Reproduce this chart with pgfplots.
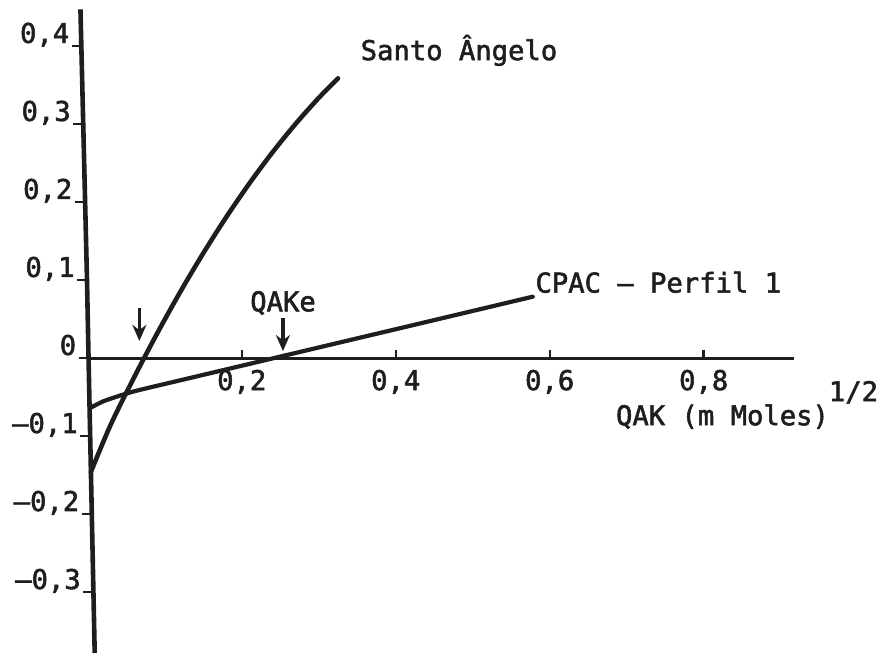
\documentclass[border=0pt]{standalone}
\usepackage{pgfplots}
\pgfplotsset{compat=1.18}
\usepackage{fontspec}
\setmainfont{DejaVu Sans Mono}[FakeBold=2]
\usetikzlibrary{arrows.meta}

\definecolor{ink}{RGB}{30,30,30}

% curves read on the QAK^{1/2} axis
\pgfplotstableread{
x      y
0.004 -0.146
0.030 -0.0849
0.060 -0.0251
0.090  0.0314
0.120  0.0846
0.150  0.1344
0.180  0.1809
0.210  0.2240
0.240  0.2638
0.270  0.3003
0.300  0.3335
0.325  0.3586
}\santoangelo

\pgfplotstableread{
x      y
0.003 -0.064
0.020 -0.0555
0.040 -0.0487
0.060 -0.0427
0.090 -0.0355
0.150 -0.0215
0.250  0.0019
0.350  0.0253
0.450  0.0487
0.578  0.0787
}\cpac

\tikzset{
  tk/.style={ink, line width=1.2pt},
  ylab/.style={ink, anchor=base east, inner sep=1pt},
}

\begin{document}
\begin{tikzpicture}
\begin{axis}[
  hide axis,
  scale only axis,
  width=442.5pt, height=326.5pt,
  xmin=-0.114, xmax=1.0355,
  ymin=-0.378, ymax=0.459,
  clip=false,
  font=\fontsize{13.6}{16}\selectfont,
]
  % page frame
  \path (rel axis cs:0,0) rectangle (rel axis cs:1,1);

  % axes drawn by hand
  \draw[ink, line width=2.3pt] (axis cs:-0.0095,0.447) -- (axis cs:-0.001,0.100)
        -- (axis cs:0.001,0) -- (axis cs:0.009,-0.378);
  \draw[ink, line width=1.5pt] (axis cs:0,0) -- (axis cs:0.917,0);

  % x ticks
  \draw[tk] (axis cs:0.2,0) -- (axis cs:0.2,0.011);
  \draw[tk] (axis cs:0.4,0) -- (axis cs:0.4,0.011);
  \draw[tk] (axis cs:0.6,0) -- (axis cs:0.6,0.011);
  \draw[tk] (axis cs:0.8,0) -- (axis cs:0.8,0.011);
  \node[ink, anchor=base] at (axis cs:0.2,-0.041) {0,2};
  \node[ink, anchor=base] at (axis cs:0.4,-0.041) {0,4};
  \node[ink, anchor=base] at (axis cs:0.6,-0.041) {0,6};
  \node[ink, anchor=base] at (axis cs:0.8,-0.041) {0,8};

  % y ticks
  \draw[tk] (axis cs:-0.021,0.4)  -- (axis cs:-0.008,0.4);
  \draw[tk] (axis cs:-0.019,0.3)  -- (axis cs:-0.006,0.3);
  \draw[tk] (axis cs:-0.017,0.2)  -- (axis cs:-0.004,0.2);
  \draw[tk] (axis cs:-0.014,0.1)  -- (axis cs:-0.001,0.1);
  \draw[tk] (axis cs:-0.012,0)    -- (axis cs:0.001,0);
  \draw[tk] (axis cs:-0.010,-0.1) -- (axis cs:0.003,-0.1);
  \draw[tk] (axis cs:-0.008,-0.2) -- (axis cs:0.005,-0.2);
  \draw[tk] (axis cs:-0.006,-0.3) -- (axis cs:0.007,-0.3);
  \node[ylab] at (axis cs:-0.021,0.404)  {0,4};
  \node[ylab] at (axis cs:-0.019,0.304)  {0,3};
  \node[ylab] at (axis cs:-0.017,0.204)  {0,2};
  \node[ylab] at (axis cs:-0.014,0.104)  {0,1};
  \node[ylab] at (axis cs:-0.012,0.004)  {0};
  \node[ylab] at (axis cs:-0.010,-0.096) {–0,1};
  \node[ylab] at (axis cs:-0.008,-0.196) {–0,2};
  \node[ylab] at (axis cs:-0.006,-0.296) {–0,3};

  % curves
  \addplot[ink, line width=2.3pt, smooth, line cap=round] table {\santoangelo};
  \addplot[ink, line width=2.1pt, smooth, line cap=round] table {\cpac};

  % arrows at the zero crossings
  \draw[ink, line width=1.6pt, -{Stealth[length=8pt,width=7pt]}]
    (axis cs:0.067,0.064) -- (axis cs:0.067,0.022);
  \draw[ink, line width=1.6pt, -{Stealth[length=8pt,width=7pt]}]
    (axis cs:0.2535,0.051) -- (axis cs:0.2535,0.009);

  % labels
  \node[ink, anchor=base, inner sep=0pt] at (axis cs:0.2536,0.060) {QAKe};
  \node[ink, anchor=base west, inner sep=0pt] at (axis cs:0.354,0.382) {Santo Ângelo};
  \node[ink, anchor=base west, inner sep=0pt] at (axis cs:0.581,0.084) {CPAC – Perfil 1};
  \node[ink, anchor=base east, inner sep=0pt] at (axis cs:1.027,-0.086)
    {QAK (m Moles)\raisebox{12pt}{1/2}};
\end{axis}
\end{tikzpicture}
\end{document}
